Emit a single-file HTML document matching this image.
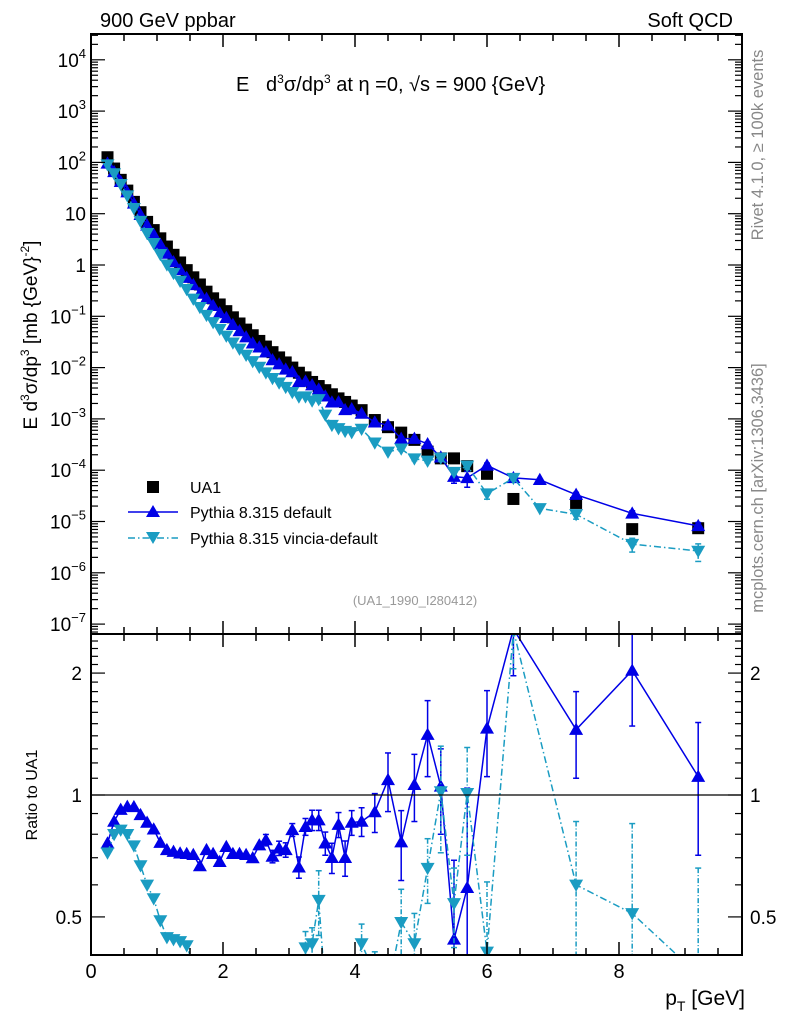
<!DOCTYPE html>
<html><head><meta charset="utf-8"><style>
html,body{margin:0;padding:0;background:#fff;width:786px;height:1024px;overflow:hidden;}
svg{display:block;font-family:"Liberation Sans",Arial,sans-serif;}
</style></head><body>
<svg id="c" width="786" height="1024" viewBox="0 0 786 1024" xmlns="http://www.w3.org/2000/svg">
<defs>
<clipPath id="clipTop"><rect x="91" y="34" width="651" height="600"/></clipPath>
<clipPath id="clipBot"><rect x="91" y="634" width="651" height="321"/></clipPath>
</defs>
<g id="grid"></g>
<g id="series"></g>
<g id="frame"></g>
<text x="100" y="27" font-size="20">900 GeV ppbar</text>
<text x="733" y="27" font-size="20" text-anchor="end">Soft QCD</text>
<text x="236" y="91" font-size="20">E&#160;&#160;&#160;d<tspan dy="-8" font-size="12">3</tspan><tspan dy="8">σ/dp</tspan><tspan dy="-8" font-size="12">3</tspan><tspan dy="8"> at η =0, √s = 900 {GeV}</tspan></text>
<text transform="translate(37,335) rotate(-90)" font-size="19" text-anchor="middle">E d<tspan dy="-8" font-size="12">3</tspan><tspan dy="8">σ/dp</tspan><tspan dy="-8" font-size="12">3</tspan><tspan dy="8"> [mb {GeV}</tspan><tspan dy="-8" font-size="12">-2</tspan><tspan dy="8">]</tspan></text>
<text transform="translate(37,795) rotate(-90)" font-size="16" text-anchor="middle">Ratio to UA1</text>
<text x="745" y="1005" font-size="21" text-anchor="end">p<tspan dy="6" font-size="14">T</tspan><tspan dy="-6"> [GeV]</tspan></text>
<text transform="translate(763,145) rotate(-90)" font-size="16.5" fill="#888" text-anchor="middle">Rivet 4.1.0, ≥ 100k events</text>
<text transform="translate(763,488) rotate(-90)" font-size="16.5" fill="#888" text-anchor="middle">mcplots.cern.ch [arXiv:1306.3436]</text>
<text x="415" y="605" font-size="13" fill="#999" text-anchor="middle">(UA1_1990_I280412)</text>
<g id="legend">
<rect x="147" y="481" width="12" height="12" fill="#000"/>
<text x="190" y="493" font-size="16">UA1</text>
<line x1="128" y1="512" x2="178" y2="512" stroke="#0000e6" stroke-width="1.5"/>
<polygon points="153,505 160,517 146,517" fill="#0000e6"/>
<text x="190" y="518" font-size="16">Pythia 8.315 default</text>
<line x1="128" y1="538" x2="178" y2="538" stroke="#1a9cc2" stroke-width="1.5" stroke-dasharray="7,3,1.5,3"/>
<polygon points="146,532 160,532 153,544" fill="#1a9cc2"/>
<text x="190" y="544" font-size="16">Pythia 8.315 vincia-default</text>
</g>
</svg>
<script>
const pt=[0.25,0.35,0.45,0.55,0.65,0.75,0.85,0.95,1.05,1.15,1.25,1.35,1.45,1.55,1.65,1.75,1.85,1.95,2.05,2.15,2.25,2.35,2.45,2.55,2.65,2.75,2.85,2.95,3.05,3.15,3.25,3.35,3.45,3.55,3.65,3.75,3.85,3.95,4.1,4.3,4.5,4.7,4.9,5.1,5.3,5.5,5.7,6.0,6.4,7.35,8.2,9.2];
const ua1=[126,75.9,45.7,28.2,17.0,10.7,6.92,4.79,3.31,2.29,1.58,1.12,0.794,0.575,0.417,0.302,0.224,0.170,0.126,0.0955,0.0724,0.0550,0.0427,0.0331,0.0257,0.0200,0.0158,0.0126,0.0100,0.00794,0.00646,0.00525,0.00437,0.00363,0.00302,0.00251,0.00214,0.00182,0.00148,9.5e-4,6.9e-4,5.4e-4,3.9e-4,2.3e-4,1.7e-4,1.7e-4,1.2e-4,8.5e-5,2.75e-5,2.3e-5,7.1e-6,7.4e-6];
const pythiaRatio=[0.76,0.86,0.92,0.936,0.935,0.893,0.855,0.823,0.763,0.732,0.725,0.718,0.716,0.712,0.668,0.732,0.716,0.684,0.745,0.716,0.716,0.712,0.699,0.752,0.774,0.705,0.739,0.732,0.82,0.663,0.835,0.867,0.867,0.76,0.70,0.845,0.70,0.855,0.86,0.908,1.09,0.765,1.06,1.41,1.05,0.44,0.59,1.46,2.57,1.45,2.03,1.11];
const pythiaErr=[0.005,0.005,0.005,0.005,0.005,0.005,0.005,0.005,0.005,0.005,0.008,0.008,0.008,0.01,0.01,0.01,0.01,0.012,0.012,0.015,0.02,0.02,0.02,0.02,0.025,0.025,0.03,0.03,0.03,0.04,0.04,0.05,0.05,0.05,0.06,0.06,0.07,0.06,0.07,0.1,0.18,0.15,0.2,0.3,0.25,0.25,0.45,0.35,0.6,0.35,0.55,0.4];
const vinciaRatio=[0.72,0.80,0.82,0.80,0.75,0.67,0.60,0.555,0.49,0.445,0.44,0.435,0.425,0.38,0.36,0.35,0.34,0.33,0.33,0.32,0.32,0.32,0.31,0.31,0.31,0.31,0.32,0.33,0.33,0.34,0.42,0.43,0.55,0.33,0.25,0.26,0.27,0.30,0.43,0.36,0.33,0.485,0.43,0.66,1.02,0.54,1.01,0.41,2.55,0.60,0.51,0.36];
const vinciaErr=[0.005,0.005,0.005,0.005,0.005,0.005,0.005,0.005,0.005,0.005,0.006,0.006,0.006,0.01,0.01,0.01,0.01,0.01,0.01,0.01,0.01,0.015,0.015,0.015,0.02,0.02,0.02,0.02,0.03,0.03,0.04,0.04,0.1,0.04,0.04,0.04,0.05,0.05,0.05,0.05,0.06,0.1,0.08,0.12,0.3,0.12,0.3,0.2,0.5,0.26,0.34,0.3];
const extraPt=[6.8];
const extraPythia=[6.5e-5];
const extraVincia=[1.8e-5];
const yTopLabels=["10<4","10<3","10<2","10","1","10<-1","10<-2","10<-3","10<-4","10<-5","10<-6","10<-7"];
const yTopExps=[4,3,2,1,0,-1,-2,-3,-4,-5,-6,-7];
const ratioTicks=[0.5,1,2];
const xTicks=[0,2,4,6,8];

const NS="http://www.w3.org/2000/svg";
const L=91,R=742,T=34,M=634,B=955;
const X=v=>L+66*v;
const YT=v=>265-51.3*Math.log10(v);
const YR=v=>795-405*Math.log10(v);
const PC="#0000e6",VC="#1a9cc2";
const TOPERR=0.45;
function mk(tag,attrs,parent){const e=document.createElementNS(NS,tag);for(const k in attrs)e.setAttribute(k,attrs[k]);parent.appendChild(e);return e;}
const grid=document.getElementById('grid'),ser=document.getElementById('series'),frame=document.getElementById('frame');

let f1=mk('rect',{x:L,y:T,width:R-L,height:M-T,fill:'none',stroke:'#000','stroke-width':2},frame);


let f2=mk('rect',{x:L,y:M,width:R-L,height:B-M,fill:'none',stroke:'#000','stroke-width':2},frame);


let one=mk('line',{x1:L,x2:R,y1:YR(1),y2:YR(1),stroke:'#000','stroke-width':1.2},frame);



for(let v=0;v<=9.8;v+=0.5){
  const major=Math.abs(v/2-Math.round(v/2))<1e-6;
  const len=major?13:7,x=X(v);
  [[T,1],[M,-1],[M,1],[B,-1]].forEach(([y,d])=>{
    const t=mk('line',{x1:x,x2:x,y1:y,y2:y+d*len,stroke:'#000','stroke-width':1.5},frame);
    
    
  });
}
xTicks.forEach(v=>{
  const t=mk('text',{x:X(v),y:978,'font-size':20,'text-anchor':'middle'},frame);
  t.textContent=String(v);
  
  
});
for(let e=-8;e<=4;e++){
  for(let m=1;m<=9;m++){
    const v=m*Math.pow(10,e),y=YT(v);
    if(y<T||y>M)continue;
    const len=m===1?14:7;
    [[L,1],[R,-1]].forEach(([x,d])=>{
      const t=mk('line',{x1:x,x2:x+d*len,y1:y,y2:y,stroke:'#000','stroke-width':1.2},frame);
      
      
    });
  }
}
yTopExps.forEach((e,i)=>{
  const y=YT(Math.pow(10,e));
  const parts=yTopLabels[i].split('<');
  const t=mk('text',{x:86,y:y+7,'font-size':19,'text-anchor':'end'},frame);
  
  
  if(parts.length===1){t.textContent=parts[0];}
  else{
    const a=mk('tspan',{},t);a.textContent=parts[0];
    const b=mk('tspan',{dy:-9,'font-size':13},t);b.textContent=parts[1].replace('-','\u2212');
  }
});
[0.4,0.5,0.6,0.7,0.8,0.9,1,1.1,1.2,1.3,1.4,1.5,1.6,1.7,1.8,1.9,2,2.1,2.2,2.3,2.4,2.5].forEach(v=>{
  const y=YR(v);if(y<M-0.5||y>B)return;
  const major=ratioTicks.some(r=>Math.abs(r-v)<1e-6);
  const len=major?14:7;
  [[L,1],[R,-1]].forEach(([x,d])=>{
    const t=mk('line',{x1:x,x2:x+d*len,y1:y,y2:y,stroke:'#000','stroke-width':1.2},frame);
    
    
  });
});
ratioTicks.forEach(v=>{
  const y=YR(v)+7;
  const a=mk('text',{x:82,y:y,'font-size':19,'text-anchor':'end'},frame);
  a.textContent=String(v);
  
  
  const b=mk('text',{x:750,y:y,'font-size':19},frame);
  b.textContent=String(v);
  
  
});

function tri(g,x,y,up,col,name){
  const s=7;
  const pts=up?`${x},${y-s} ${x+s},${y+s*0.75} ${x-s},${y+s*0.75}`:`${x-s},${y-s*0.75} ${x+s},${y-s*0.75} ${x},${y+s}`;
  const p=mk('polygon',{points:pts,fill:col},g);
  
  
}
function errbar(g,x,y1,y2,col,dash,name){
  const l=mk('line',{x1:x,x2:x,y1:y1,y2:y2,stroke:col,'stroke-width':1.5},g);
  if(dash)l.setAttribute('stroke-dasharray','5,2,1,2');
  
  
  [y1,y2].forEach(y=>{const c=mk('line',{x1:x-3,x2:x+3,y1:y,y2:y,stroke:col,'stroke-width':1.5},g);
    
    });
}
const gTop=mk('g',{'clip-path':'url(#clipTop)'},ser);


const gBot=mk('g',{'clip-path':'url(#clipBot)'},ser);



function topSeries(ratio,err,ex,ey){
  const pts=pt.map((x,i)=>({x:x,v:ua1[i]*ratio[i],e:ua1[i]*err[i]*TOPERR}));
  ex.forEach((x,i)=>pts.push({x:x,v:ey[i],e:0}));
  pts.sort((a,b)=>a.x-b.x);
  return pts;
}
function drawSeries(col,dash,up,ratio,err,ex,ey,nm){
  const pts=topSeries(ratio,err,ex,ey);
  const pl=mk('polyline',{points:pts.map(p=>X(p.x)+','+YT(p.v)).join(' '),fill:'none',stroke:col,'stroke-width':1.5},gTop);
  if(dash)pl.setAttribute('stroke-dasharray','7,3,1.5,3');
  
  
  pts.forEach(p=>{
    if(p.e>0&&p.x>4.5){errbar(gTop,X(p.x),YT(p.v+p.e),YT(Math.max(p.v-p.e,p.v*0.3)),col,dash,nm+'-errorbar');}
    tri(gTop,X(p.x),YT(p.v),up,col,nm+'-point');
  });
  const rl=mk('polyline',{points:pt.map((x,i)=>X(x)+','+YR(ratio[i])).join(' '),fill:'none',stroke:col,'stroke-width':1.5},gBot);
  if(dash)rl.setAttribute('stroke-dasharray','7,3,1.5,3');
  
  
  pt.forEach((x,i)=>{
    if(err[i]>0.02)errbar(gBot,X(x),YR(ratio[i]+err[i]),YR(Math.max(ratio[i]-err[i],0.05)),col,dash,nm+'-ratio-errorbar');
    tri(gBot,X(x),YR(ratio[i]),up,col,nm+'-ratio-point');
  });
}
pt.forEach((x,i)=>{
  const r=mk('rect',{x:X(x)-6,y:YT(ua1[i])-6,width:12,height:12,fill:'#000'},gTop);
  
  
});
drawSeries(PC,false,true,pythiaRatio,pythiaErr,extraPt,extraPythia,'pythia-default');
drawSeries(VC,true,false,vinciaRatio,vinciaErr,extraPt,extraVincia,'pythia-vincia');
</script>
</body></html>
